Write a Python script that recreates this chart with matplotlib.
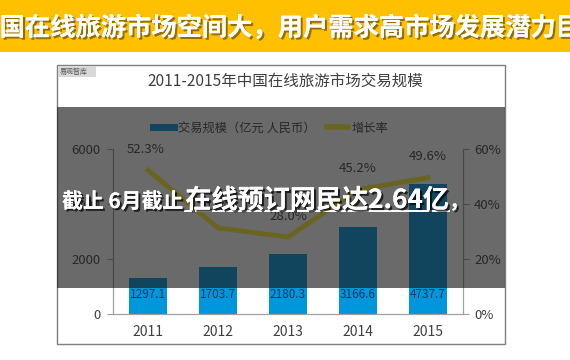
import numpy as np
import matplotlib.pyplot as plt
import matplotlib.patheffects as pe
from matplotlib.patches import Rectangle
from matplotlib.lines import Line2D

plt.rcParams['font.family'] = ['Noto Sans CJK SC', 'DejaVu Sans']

# chart data
years = ['2011', '2012', '2013', '2014', '2015']
volume = [1297.1, 1703.7, 2180.3, 3166.6, 4737.7]
growth = [52.3, 31.3, 28.0, 45.2, 49.6]
left_ticks = [0, 2000, 4000, 6000]
right_ticks = [0, 20, 40, 60]

banner_text = '中国在线旅游市场空间大，用户需求高市场发展潜力巨大'
chart_title = '2011-2015年中国在线旅游市场交易规模'
caption_small = '截止 6月截止'
caption_big = '在线预订网民达2.64亿'

W, H = 570, 360
fig = plt.figure(figsize=(W / 100, H / 100), dpi=100)
fig.patch.set_facecolor('white')


def fx(px):
    return px / W


def fy(py):
    return 1 - py / H


# yellow banner
fig.patches.append(Rectangle((0, fy(52)), 1, 52 / H, transform=fig.transFigure,
                             facecolor='#FFC000', edgecolor='none', zorder=0))
fig.text(fx(290), fy(28), banner_text, color='white', fontsize=18.2, fontweight='bold',
         ha='center', va='center',
         path_effects=[pe.withSimplePatchShadow(offset=(1.5, -1.5), shadow_rgbFace='#7a5a00', alpha=0.8),
                       pe.Normal()])

# chart picture frame
fig.patches.append(Rectangle((fx(57), fy(344)), (505 - 57) / W, (344 - 65) / H,
                             transform=fig.transFigure, facecolor='white',
                             edgecolor='#7f7f7f', lw=1, zorder=-1))
fig.patches.append(Rectangle((fx(58), fy(77)), (96 - 58) / W, (77 - 66) / H,
                             transform=fig.transFigure, facecolor='#d9d9d9',
                             edgecolor='none', zorder=2))
fig.text(fx(60), fy(71.5), '易观智库', fontsize=5, color='#555555', va='center', zorder=3)
fig.text(fx(285), fy(81), chart_title, fontsize=11.2, color='#404040',
         ha='center', va='center', zorder=3)

# main axes
ax = fig.add_axes([fx(113), fy(314), (463 - 113) / W, (314 - 149) / H])
ax.set_zorder(2)
ax.set_facecolor('none')
x = np.arange(len(years))
bars = ax.bar(x, volume, width=0.55, color='#0096DB', zorder=2)
ax.set_xlim(-0.5, len(years) - 0.5)
ax.set_ylim(0, 6000)
ax.set_yticks(left_ticks)
ax.set_xticks(x)
ax.set_xticklabels(years)
ax.tick_params(axis='x', length=0, pad=8, labelsize=10, colors='#404040')
ax.tick_params(axis='y', direction='out', length=4, pad=5, labelsize=9.5,
               colors='#404040', color='#a0a0a0')
ax.spines['top'].set_visible(False)
for s in ['left', 'right', 'bottom']:
    ax.spines[s].set_color('#a0a0a0')
for xi, v in zip(x, volume):
    ax.annotate(f'{v:.1f}', (xi, 0), xytext=(0, 14), textcoords='offset points',
                ha='center', va='center', fontsize=8.5, color='#17375E', zorder=3)

ax2 = ax.twinx()
ax2.set_zorder(3)
ax2.set_facecolor('none')
ax2.plot(x, growth, color='#FFEE30', lw=3.5, solid_joinstyle='miter', zorder=3)
ax2.set_ylim(0, 60)
ax2.set_yticks(right_ticks)
ax2.set_yticklabels([f'{t}%' for t in right_ticks])
ax2.tick_params(axis='y', direction='out', length=4, pad=4, labelsize=9.5,
                colors='#404040', color='#a0a0a0')
ax2.spines['top'].set_visible(False)
for s in ['left', 'right', 'bottom']:
    ax2.spines[s].set_color('#a0a0a0')
for xi, g in zip(x, growth):
    ax2.annotate(f'{g:.1f}%', (xi, g), xytext=(-2 if xi == 0 else 0, 15),
                 textcoords='offset points', ha='center', va='center',
                 fontsize=9.5, color='#404040')

handles = [Line2D([], [], color='#0096DB', lw=5),
           Line2D([], [], color='#FFEE30', lw=4)]
fig.legend(handles, ['交易规模（亿元 人民币）', '增长率'], loc='center',
           bbox_to_anchor=(fx(271), fy(128)), ncol=2, frameon=False, fontsize=8.8,
           handlelength=1.7, handletextpad=0.3, columnspacing=1.0,
           labelcolor='#404040')

# dark overlay band
fig.patches.append(Rectangle((fx(57), fy(288)), (505 - 57) / W, (288 - 107) / H,
                             transform=fig.transFigure, facecolor='#1a1a1a',
                             alpha=0.65, edgecolor='none', zorder=10))

# caption text over the band
shadow = [pe.withSimplePatchShadow(offset=(1.5, -1.5), shadow_rgbFace='black', alpha=0.7),
          pe.Normal()]
t1 = fig.text(fx(62), fy(208), caption_small, color='white', fontsize=15,
              fontweight='bold', va='baseline', zorder=11, path_effects=shadow)
fig.canvas.draw()
r = fig.canvas.get_renderer()
e1 = t1.get_window_extent(r)
t2 = fig.text(e1.x1 / W + fx(2), fy(208), caption_big, color='white', fontsize=18.8,
              fontweight='bold', va='baseline', zorder=11, path_effects=shadow)
e2 = t2.get_window_extent(r)
fig.text(e2.x1 / W, fy(208), '，', color='white', fontsize=14,
         fontweight='bold', va='baseline', zorder=11, path_effects=shadow)
fig.add_artist(Line2D([e2.x0 / W, e2.x1 / W], [fy(211), fy(211)],
                      transform=fig.transFigure, color='white', lw=1.3, zorder=11,
                      path_effects=shadow))

fig.savefig('out.png', dpi=100)
